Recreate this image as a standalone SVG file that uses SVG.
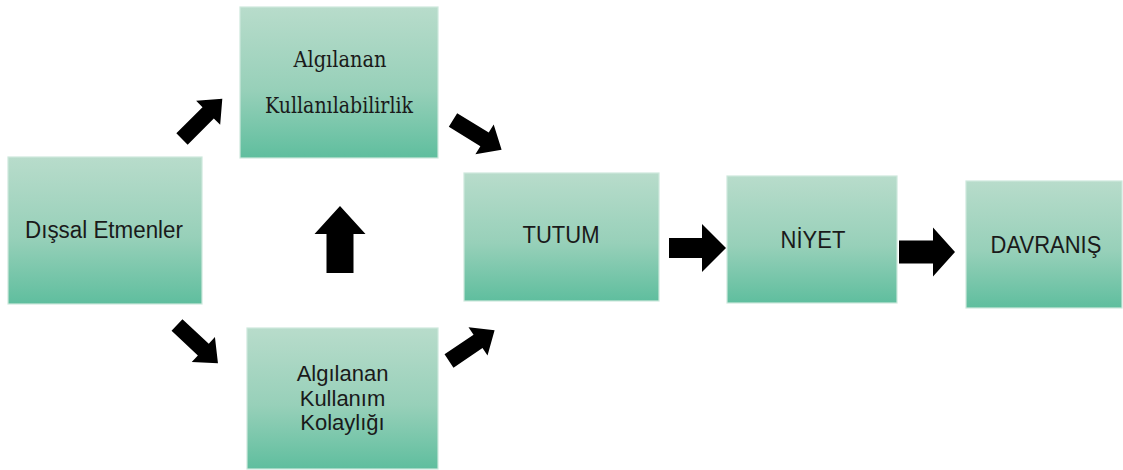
<svg xmlns="http://www.w3.org/2000/svg" width="1123" height="470" viewBox="0 0 1123 470">
<defs>
<linearGradient id="g" x1="0" y1="0" x2="0" y2="1">
<stop offset="0" stop-color="#b8dccb"/>
<stop offset="0.55" stop-color="#97d0b9"/>
<stop offset="1" stop-color="#5fbe9e"/>
</linearGradient>
<style>
.box{fill:url(#g);stroke:#cde8dc;stroke-width:1.2}
.s{font-family:"Liberation Sans",Arial,sans-serif;font-size:22px;fill:#1a1a1a;text-anchor:middle}
.f{font-family:"DejaVu Serif","Liberation Serif",serif;font-size:21px;fill:#1a1a1a;text-anchor:middle}
.ar{fill:#000}
</style>
</defs>
<rect width="1123" height="470" fill="#fff"/>
<g id="n-kullanilabilirlik">
<rect class="box" x="240" y="7" width="198" height="151"/>
<g transform="translate(340,67) scale(1,1.1)"><text class="f" x="0" y="0" textLength="93" lengthAdjust="spacingAndGlyphs">Algılanan</text></g>
<g transform="translate(339,113) scale(1,1.1)"><text class="f" x="0" y="0" textLength="148" lengthAdjust="spacingAndGlyphs">Kullanılabilirlik</text></g>
</g>
<g id="n-dissal">
<rect class="box" x="8" y="157" width="194" height="147"/>
<g transform="translate(104,238) scale(1,1.12)"><text class="s" x="0" y="0" textLength="158" lengthAdjust="spacingAndGlyphs">Dışsal Etmenler</text></g>
</g>
<g id="n-kolaylik">
<rect class="box" x="247" y="328" width="191" height="141"/>
<text class="s" x="342.5" y="381">Algılanan</text>
<text class="s" x="342.5" y="406">Kullanım</text>
<text class="s" x="342.5" y="430">Kolaylığı</text>
</g>
<g id="n-tutum">
<rect class="box" x="464" y="173" width="195" height="128"/>
<g transform="translate(561,243) scale(1,1.12)"><text class="s" x="0" y="0">TUTUM</text></g>
</g>
<g id="n-niyet">
<rect class="box" x="727" y="176" width="170" height="127"/>
<g transform="translate(813,248) scale(1,1.12)"><text class="s" x="0" y="0">NİYET</text></g>
</g>
<g id="n-davranis">
<rect class="box" x="966" y="181" width="156" height="127"/>
<g transform="translate(1046,253) scale(1,1.12)"><text class="s" x="0" y="0">DAVRANIŞ</text></g>
</g>
<g id="connectors">
<path class="ar" transform="translate(182,139) rotate(-45)" d="M0,-8 L37,-8 L37,-17 L57,0 L37,17 L37,8 L0,8 Z"/>
<path class="ar" transform="translate(453,120) rotate(31.5)" d="M0,-8 L37,-8 L37,-17.5 L57,0 L37,17.5 L37,8 L0,8 Z"/>
<path class="ar" transform="translate(177,325) rotate(43)" d="M0,-8 L36,-8 L36,-17 L56,0 L36,17 L36,8 L0,8 Z"/>
<path class="ar" transform="translate(449,361) rotate(-34)" d="M0,-8 L35,-8 L35,-17 L55,0 L35,17 L35,8 L0,8 Z"/>
<path class="ar" transform="translate(340,273) rotate(-90)" d="M0,-13.5 L39,-13.5 L39,-25.5 L67,0 L39,25.5 L39,13.5 L0,13.5 Z"/>
<path class="ar" transform="translate(669,248)" d="M0,-10 L33,-10 L33,-24 L57,0 L33,24 L33,10 L0,10 Z"/>
<path class="ar" transform="translate(899,252)" d="M0,-11.5 L34,-11.5 L34,-24.5 L56,0 L34,24.5 L34,11.5 L0,11.5 Z"/>
</g>
</svg>
